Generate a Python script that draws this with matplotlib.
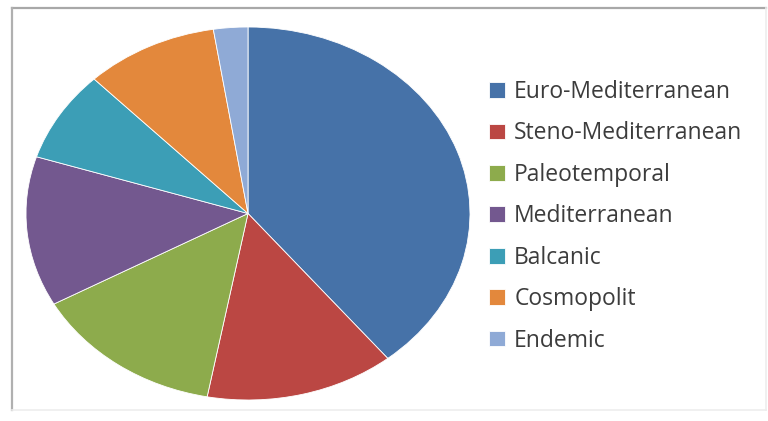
import matplotlib
matplotlib.use("Agg")
import matplotlib.pyplot as plt
from matplotlib.lines import Line2D

categories = ["Euro-Mediterranean", "Steno-Mediterranean", "Paleotemporal",
              "Mediterranean", "Balcanic", "Cosmopolit", "Endemic"]
values = [39.2, 13.8, 14.0, 13.0, 7.9, 9.7, 2.5]
colors = ["#4672A8", "#BB4743", "#8DAB4C", "#73588F", "#3C9EB6", "#E3883C", "#8FAAD6"]

W, H = 768, 421
fig = plt.figure(figsize=(W / 100, H / 100), dpi=100)
fig.patch.set_facecolor("white")

# chart frame
fig.add_artist(Line2D([12 / W, 766 / W], [1 - 8 / H, 1 - 8 / H], color="#A8A8A8", lw=1.6))
fig.add_artist(Line2D([12 / W, 12 / W], [1 - 8 / H, 1 - 410 / H], color="#B0B0B0", lw=1.6))
fig.add_artist(Line2D([12 / W, 766 / W], [1 - 410 / H, 1 - 410 / H], color="#EDEDED", lw=1.2))
fig.add_artist(Line2D([766 / W, 766 / W], [1 - 8 / H, 1 - 410 / H], color="#EDEDED", lw=1.2))

# pie ellipse bounding box in pixels: x 26..470, y 27..400
x0, x1, y0, y1 = 26, 470, 27, 400
ax = fig.add_axes([x0 / W, 1 - y1 / H, (x1 - x0) / W, (y1 - y0) / H])
wedges, _ = ax.pie(values, colors=colors, startangle=90, counterclock=False,
                   wedgeprops=dict(linewidth=0.6, edgecolor="white"))
ax.set_aspect("auto")
ax.set_xlim(-1, 1)
ax.set_ylim(-1, 1)
ax.axis("off")

leg = fig.legend(wedges, categories, loc="upper left",
                 bbox_to_anchor=(489 / W, 1 - 80 / H),
                 frameon=False, handlelength=0.68, handleheight=0.68,
                 handletextpad=0.42, labelspacing=0.76, borderpad=0, borderaxespad=0,
                 prop={"family": "Open Sans", "size": 16.5})
for t in leg.get_texts():
    t.set_color("#3C3C3C")

fig.savefig("out.png", dpi=100, facecolor="white")
